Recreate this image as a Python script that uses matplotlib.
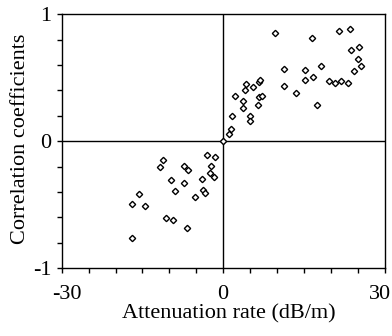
import matplotlib

matplotlib.use('Agg')
import matplotlib.pyplot as plt
import matplotlib.transforms as mtransforms
from matplotlib.ticker import MultipleLocator

# points (attenuation rate dB/m, correlation coefficient)
pos_x = [0.0, 1.05, 1.49, 1.61, 2.29, 3.78, 3.78, 4.15, 4.28, 4.96, 5.08, 5.58,
         6.45, 6.63, 6.94, 6.76, 7.32, 9.73, 11.35, 11.35, 13.51, 15.25, 15.31,
         16.61, 16.74, 17.54, 18.23, 19.59, 20.71, 21.45, 22.0, 23.3, 23.5,
         23.74, 24.4, 25.0, 25.2, 25.6]
pos_y = [0.0, 0.06, 0.094, 0.20, 0.357, 0.318, 0.26, 0.40, 0.454, 0.20, 0.157,
         0.43, 0.283, 0.467, 0.483, 0.349, 0.357, 0.853, 0.567, 0.436, 0.381,
         0.562, 0.483, 0.814, 0.504, 0.283, 0.59, 0.478, 0.462, 0.869, 0.472,
         0.459, 0.885, 0.717, 0.551, 0.648, 0.745, 0.596]

neg_x = [-16.86, -16.86, -15.56, -14.57, -11.78, -11.22, -10.66, -9.61, -9.30,
         -8.93, -7.32, -7.32, -6.45, -6.76, -5.21, -3.84, -3.78, -3.29, -2.91,
         -2.17, -2.42, -1.61, -1.43]
neg_y = [-0.491, -0.764, -0.417, -0.509, -0.202, -0.150, -0.601, -0.304, -0.622,
         -0.394, -0.192, -0.331, -0.226, -0.685, -0.436, -0.299, -0.386, -0.407,
         -0.105, -0.194, -0.252, -0.281, -0.121]

x = neg_x + pos_x
y = neg_y + pos_y

x_ticks = [-30, 0, 30]
y_ticks = [-1, 0, 1]

plt.rcParams['font.family'] = ['Liberation Serif', 'DejaVu Serif']

fig = plt.figure(figsize=(3.92, 3.36), dpi=100)
# axes box: x 61.7..384.5 px, y 14.3..268.3 px
ax = fig.add_axes([0.1574, 0.2015, 0.8235, 0.756])

ax.axhline(0, color='black', lw=1, zorder=1)
ax.axvline(0, color='black', lw=1, zorder=1)
ax.plot(x, y, 'D', ms=3.2, mfc='white', mec='black', mew=1.0, zorder=3)

ax.set_xlim(-30, 30)
ax.set_ylim(-1, 1)
ax.set_xticks(x_ticks)
ax.set_yticks(y_ticks)
ax.set_xticklabels([str(v) for v in x_ticks])
ax.set_yticklabels([str(v) for v in y_ticks])
ax.xaxis.set_minor_locator(MultipleLocator(5))
ax.yaxis.set_minor_locator(MultipleLocator(0.2))
ax.tick_params(which='both', direction='out', length=3.6, width=1, top=False,
               right=False, labelsize=16)
ax.tick_params(axis='x', pad=8.3)
ax.tick_params(axis='y', pad=3.6)
for s in ax.spines.values():
    s.set_linewidth(1)

# end labels sit a bit inward, as in the original
lbls = ax.get_xticklabels()
lbls[0].set_transform(lbls[0].get_transform() +
                      mtransforms.ScaledTranslation(5 / 100, 0, fig.dpi_scale_trans))
lbls[-1].set_transform(lbls[-1].get_transform() +
                       mtransforms.ScaledTranslation(-4.5 / 100, 0, fig.dpi_scale_trans))

ax.set_xlabel('Attenuation rate (dB/m)', fontsize=16)
ax.xaxis.set_label_coords(0.518, -0.143)
ax.set_ylabel('Correlation coefficients', fontsize=16)
ax.yaxis.set_label_coords(-0.099, 0.509)

fig.savefig('out.png', dpi=100)
